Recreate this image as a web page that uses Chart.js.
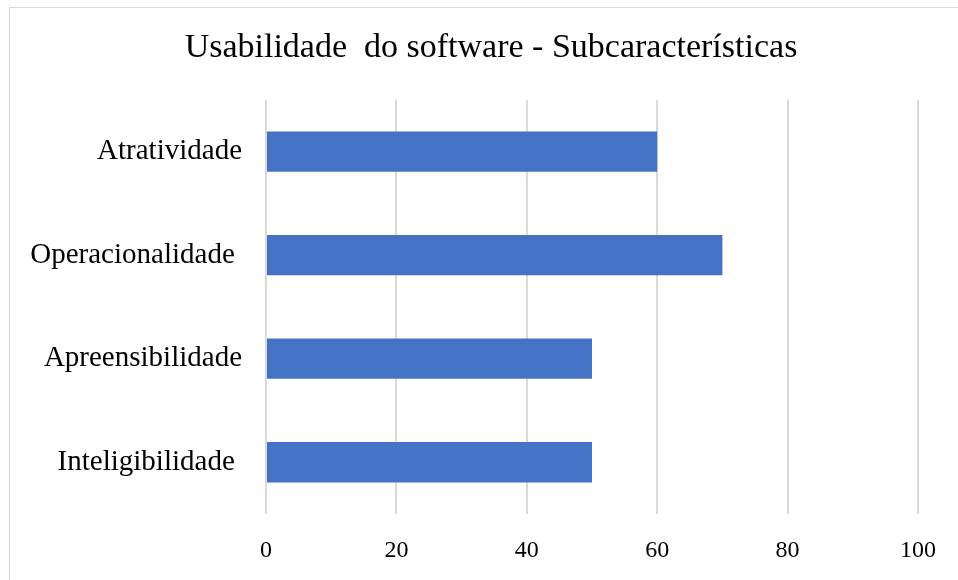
<!DOCTYPE html>
<html lang="pt">
<head>
    <meta charset="UTF-8">
    <title>Usabilidade do software</title>
    <script src="https://cdn.jsdelivr.net/npm/chart.js"></script>
    <style>
        html, body { margin: 0; padding: 0; background: #fff; }
        #wrap { position: relative; width: 958px; height: 580px; }
        #frame {
            position: absolute;
            left: 9px; top: 7px;
            width: 960px; height: 600px;
            border: 1px solid #d9d9d9;
        }
        canvas { position: absolute; left: 0; top: 0; }
    </style>
</head>
<body>
<div id="wrap">
    <div id="frame"></div>
    <canvas id="chart" width="958" height="580"></canvas>
</div>
<script>
    const categories = ['Atratividade', 'Operacionalidade ', 'Apreensibilidade', 'Inteligibilidade '];
    const values = [60, 70, 50, 50];
    const titleText = 'Usabilidade  do software - Subcaracterísticas';

    const serif = '"Liberation Serif", "Times New Roman", serif';

    new Chart(document.getElementById('chart'), {
        type: 'bar',
        data: {
            labels: categories,
            datasets: [{
                data: values,
                backgroundColor: '#4472C4',
                barPercentage: 0.39,
                categoryPercentage: 1
            }]
        },
        options: {
            indexAxis: 'y',
            responsive: false,
            animation: false,
            layout: { padding: { left: 24, right: 0, top: 0, bottom: 0 } },
            plugins: {
                legend: { display: false },
                tooltip: { enabled: false },
                title: {
                    display: true,
                    text: titleText,
                    color: '#000',
                    font: { family: serif, size: 34, weight: 'normal', lineHeight: 1.2 },
                    padding: { top: 28, bottom: 31 }
                }
            },
            scales: {
                x: {
                    min: 0, max: 100,
                    ticks: { stepSize: 20, color: '#000', padding: 22, font: { family: serif, size: 24 } },
                    grid: { color: '#d9d9d9', lineWidth: 2, drawTicks: false },
                    border: { display: false },
                    afterFit: s => { s.height = 66; }
                },
                y: {
                    ticks: { color: '#000', padding: 24, font: { family: serif, size: 29 } },
                    grid: { display: false, drawTicks: false },
                    border: { display: false },
                    afterFit: s => { s.width = 242; }
                },
                yRight: {
                    type: 'linear',
                    position: 'right',
                    ticks: { display: false },
                    grid: { display: false, drawTicks: false },
                    border: { display: false },
                    afterFit: s => { s.width = 38; }
                }
            }
        }
    });
</script>
</body>
</html>
